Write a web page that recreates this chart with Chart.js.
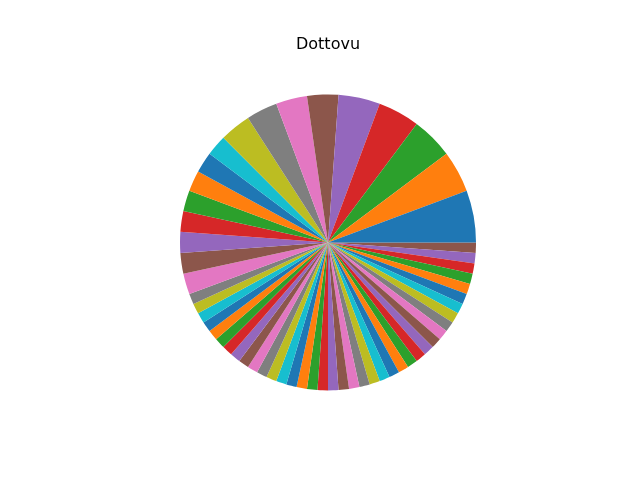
<!DOCTYPE html>
<html>
<head>
<meta charset="utf-8">
<script src="https://cdn.jsdelivr.net/npm/chart.js@4/dist/chart.umd.min.js"></script>
<style>
html,body{margin:0;padding:0;background:#fff;}
#wrap{width:640px;height:480px;}
</style>
</head>
<body>
<div id="wrap"><canvas id="c" width="640" height="480"></canvas></div>
<script>
const chartTitle = "Dottovu";
const categories = [];
for (let i = 1; i <= 56; i++) categories.push("Item " + i);
const values = [
  5, 4, 4, 4, 4, 3, 3, 3, 3, 2,
  2, 2, 2, 2, 2, 2, 2, 1, 1, 1,
  1, 1, 1, 1, 1, 1, 1, 1, 1, 1,
  1, 1, 1, 1, 1, 1, 1, 1, 1, 1,
  1, 1, 1, 1, 1, 1, 1, 1, 1, 1,
  1, 1, 1, 1, 1, 1
];
const palette = ["#1f77b4","#ff7f0e","#2ca02c","#d62728","#9467bd","#8c564b","#e377c2","#7f7f7f","#bcbd22","#17becf"];

// matplotlib draws counter-clockwise from 3 o'clock; Chart.js draws clockwise,
// so feed the slices in reverse order starting at 3 o'clock.
const colors = values.map((v, i) => palette[i % palette.length]);
const revLabels = categories.slice().reverse();
const revValues = values.slice().reverse();
const revColors = colors.slice().reverse();

new Chart(document.getElementById("c"), {
  type: "pie",
  data: {
    labels: revLabels,
    datasets: [{
      data: revValues,
      backgroundColor: revColors,
      borderWidth: 0,
      hoverOffset: 0,
      offset: 0
    }]
  },
  options: {
    responsive: false,
    animation: false,
    rotation: 90,
    layout: { padding: { left: 180, right: 164, top: 0, bottom: 89.6 } },
    plugins: {
      legend: { display: false },
      tooltip: { enabled: false },
      title: {
        display: true,
        text: chartTitle,
        color: "#000",
        font: { family: "DejaVu Sans", size: 16, weight: "normal", lineHeight: 1.2 },
        padding: { top: 35, bottom: 40.2 }
      }
    }
  }
});
</script>
</body>
</html>
